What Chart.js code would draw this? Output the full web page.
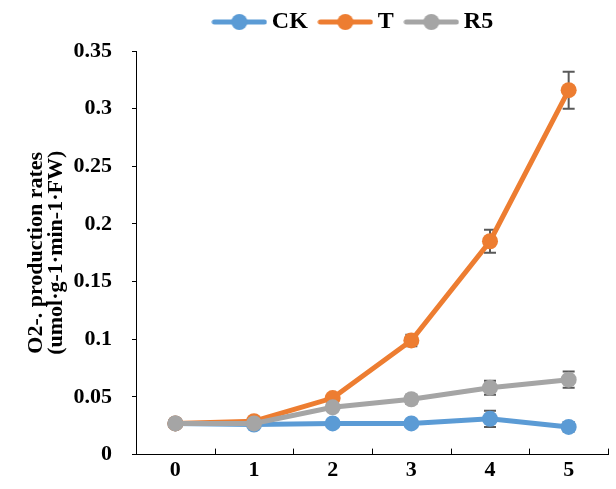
<!DOCTYPE html>
<html>
<head>
<meta charset="utf-8">
<script src="https://cdn.jsdelivr.net/npm/chart.js@4/dist/chart.umd.min.js"></script>
<style>
    html, body { margin: 0; padding: 0; background: #fff; }
    #wrap { width: 616px; height: 489px; }
</style>
</head>
<body>
<div id="wrap"><canvas id="myChart" width="616" height="489"></canvas></div>
<script>
// days
const categories = ['0', '1', '2', '3', '4', '5'];

// O2-. production rates
const ckValues = [0.027, 0.026, 0.027, 0.027, 0.031, 0.024];
const tValues = [0.027, 0.029, 0.049, 0.099, 0.185, 0.316];
const r5Values = [0.027, 0.027, 0.041, 0.048, 0.058, 0.065];

// standard errors
const ckErrors = [0.001, 0.002, 0.002, 0.002, 0.007, 0.004];
const tErrors = [0.001, 0.002, 0.003, 0.005, 0.010, 0.016];
const r5Errors = [0.001, 0.002, 0.003, 0.004, 0.006, 0.007];

const yTicks = [0, 0.05, 0.1, 0.15, 0.2, 0.25, 0.3, 0.35];

const FONT = '"Liberation Serif", "Times New Roman", serif';

/**
 * Legend symbol: a line with a dot in the middle
 * @param {String} color
 * @returns {HTMLCanvasElement}
 */
function legendSymbol(color) {
    let c = document.createElement('canvas');
    c.width = 56;
    c.height = 18;
    let ctx = c.getContext('2d');
    ctx.strokeStyle = color;
    ctx.lineWidth = 5;
    ctx.lineCap = 'round';
    ctx.beginPath();
    ctx.moveTo(3, 9);
    ctx.lineTo(53, 9);
    ctx.stroke();
    ctx.fillStyle = color;
    ctx.beginPath();
    ctx.arc(28, 9, 8, 0, Math.PI * 2);
    ctx.fill();
    return c;
}

// error bars, inner tick marks on x axis, legend shift
const extrasPlugin = {
    id: 'extras',
    afterLayout(chart) {
        // legend sits a bit right of the canvas centre
        chart.legend.left += 36;
        chart.legend.right += 36;
    },
    beforeDatasetsDraw(chart) {
        // error bars go under the lines and markers
        let ctx = chart.ctx;
        let y = chart.scales.y;
        ctx.save();
        ctx.strokeStyle = '#595959';
        ctx.lineWidth = 2;
        chart.data.datasets.forEach((ds, i) => {
            let meta = chart.getDatasetMeta(i);
            meta.data.forEach((pt, j) => {
                let err = ds.errors[j];
                let top = y.getPixelForValue(ds.data[j] + err);
                let bottom = y.getPixelForValue(ds.data[j] - err);
                ctx.beginPath();
                ctx.moveTo(pt.x, top);
                ctx.lineTo(pt.x, bottom);
                ctx.moveTo(pt.x - 6, top);
                ctx.lineTo(pt.x + 6, top);
                ctx.moveTo(pt.x - 6, bottom);
                ctx.lineTo(pt.x + 6, bottom);
                ctx.stroke();
            });
        });
        ctx.restore();
    },
    afterDraw(chart) {
        let ctx = chart.ctx;
        let x = chart.scales.x;
        let area = chart.chartArea;
        let step = x.getPixelForValue(1) - x.getPixelForValue(0);
        ctx.save();
        ctx.strokeStyle = '#000';
        ctx.lineWidth = 1;
        for (let i = 0; i <= categories.length; i++) {
            let px = Math.round(x.getPixelForValue(0) - step / 2 + i * step) + 0.5;
            ctx.beginPath();
            ctx.moveTo(px, area.bottom);
            ctx.lineTo(px, area.bottom - 6);
            ctx.stroke();
        }
        ctx.restore();
    }
};

function makeDataset(label, values, errors, color, order) {
    return {
        label: label,
        data: values,
        errors: errors,
        borderColor: color,
        backgroundColor: color,
        borderWidth: 5,
        pointRadius: 8,
        pointHoverRadius: 8,
        pointBorderWidth: 0,
        tension: 0,
        order: order
    };
}

let data = {
    labels: categories,
    datasets: [
        makeDataset('CK', ckValues, ckErrors, '#5B9BD5', 3),
        makeDataset('T', tValues, tErrors, '#ED7D31', 2),
        makeDataset('R5', r5Values, r5Errors, '#A5A5A5', 1)
    ]
};

let options = {
    responsive: false,
    animation: false,
    layout: {
        padding: { left: 26, right: 2, top: -7, bottom: 2 }
    },
    plugins: {
        legend: {
            position: 'top',
            labels: {
                usePointStyle: true,
                pointStyleWidth: 41,
                padding: 17,
                color: '#000',
                font: { family: FONT, size: 24, weight: 'bold' },
                generateLabels(chart) {
                    return chart.data.datasets.map((ds, i) => ({
                        text: ds.label,
                        fillStyle: ds.borderColor,
                        strokeStyle: ds.borderColor,
                        pointStyle: legendSymbol(ds.borderColor),
                        fontColor: '#000',
                        datasetIndex: i,
                        hidden: false
                    }));
                }
            }
        },
        // empty title used as a gap between legend and plot
        title: {
            display: true,
            text: '',
            position: 'top',
            weight: 500,
            padding: 0,
            font: { size: 7, lineHeight: 1 }
        },
        tooltip: { enabled: false }
    },
    scales: {
        x: {
            offset: true,
            grid: { display: false, drawTicks: false },
            border: { display: true, color: '#000', width: 1 },
            ticks: {
                padding: 3,
                color: '#000',
                font: { family: FONT, size: 22, weight: 'bold' }
            }
        },
        y: {
            min: 0,
            max: 0.35,
            afterBuildTicks(scale) {
                scale.ticks = yTicks.map(v => ({ value: v }));
            },
            afterFit(scale) {
                scale.width = 110;
            },
            grid: { drawOnChartArea: false, tickLength: 4, color: '#000' },
            border: { display: true, color: '#000', width: 1 },
            ticks: {
                padding: 20,
                color: '#000',
                font: { family: FONT, size: 22, weight: 'bold' },
                callback: v => String(parseFloat(v.toFixed(2)))
            },
            title: {
                display: true,
                text: ['O2-. production rates', '(umol·g-1·min-1·FW)'],
                color: '#000',
                font: { family: FONT, size: 22, weight: 'bold', lineHeight: 0.92 },
                padding: { top: 0, bottom: 6 }
            }
        }
    }
};

let ctx = document.getElementById('myChart').getContext('2d');
let myChart = new Chart(ctx, {
    type: 'line',
    data: data,
    options: options,
    plugins: [extrasPlugin]
});
</script>
</body>
</html>
